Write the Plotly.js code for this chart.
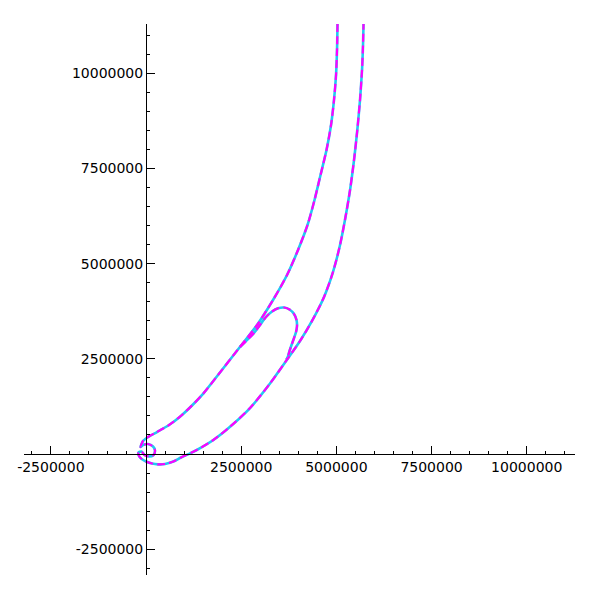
<!DOCTYPE html>
<html>
<head>
<meta charset="utf-8">
<script src="https://cdn.plot.ly/plotly-3.0.1.min.js"></script>
<style>html,body{margin:0;padding:0;background:#fff;}#chart{width:600px;height:600px;}</style>
</head>
<body>
<div id="chart"></div>
<script>
// Main path: upper branch (top -> origin), small loop, bottom, right branch (up to top)
const mainX = [5030000, 5017000, 4991000, 4938000, 4860000, 4741000, 4584000, 4426000, 4242000, 3993000,
  3704000, 3336000, 2916000, 2404000, 1891000, 1510000, 1221000, 893000, 604000, 289000,
  53000, -79000, -144000,
  -79000, 53000, 184000, 236000, 197000, 79000, -39000, -118000,
  -197000, -184000, -113000, 0, 158000, 315000, 499000, 717000, 919000, 1156000,
  1332000, 1768000, 2207000, 2732000, 3257000, 3651000, 4045000, 4360000, 4676000, 4912000,
  5096000, 5240000, 5359000, 5464000, 5550000, 5621000, 5674000, 5700000, 5713000];
const mainY = [11295000, 10612000, 9956000, 9299000, 8642000, 7985000, 7329000, 6672000, 6015000, 5359000,
  4702000, 4045000, 3389000, 2732000, 2075000, 1594000, 1287000, 980000, 762000, 578000,
  447000, 341000, 184000,
  236000, 263000, 197000, 92000, -26000, -66000, -26000, 66000,
  39000, -53000, -131000, -197000, -250000, -271000, -263000, -197000, -92000, 18000,
  105000, 368000, 717000, 1208000, 1852000, 2404000, 2968000, 3494000, 4124000, 4781000,
  5490000, 6226000, 6935000, 7723000, 8511000, 9299000, 10087000, 10744000, 11295000];
// Hook that leaves the upper branch and joins the right branch
const hookX = [2469000, 2837000, 2995000, 3152000, 3310000, 3467000, 3625000, 3769000, 3888000, 3953000,
  3966000, 3940000, 3888000, 3822000, 3769000, 3730000, 3690000];
const hookY = [2811000, 3178000, 3389000, 3599000, 3743000, 3827000, 3848000, 3796000, 3678000, 3520000,
  3362000, 3205000, 3047000, 2863000, 2706000, 2570000, 2480000];

const tickVals = [-2500000, 0, 2500000, 5000000, 7500000, 10000000];
const xTickText = ['-2500000', '', '2500000', '5000000', '7500000', '10000000'];
const yTickText = ['-2500000', '', '2500000', '5000000', '7500000', '10000000'];

const allX = mainX.concat([null], hookX);
const allY = mainY.concat([null], hookY);

const traces = [
  {x: allX, y: allY, type: 'scatter', mode: 'lines', connectgaps: false,
   line: {color: '#22c8f2', width: 2.6, shape: 'spline', smoothing: 0.7}, hoverinfo: 'skip'},
  {x: allX, y: allY, type: 'scatter', mode: 'lines', connectgaps: false,
   line: {color: '#ff00ff', width: 2.2, dash: '8px,4px', shape: 'spline', smoothing: 0.7}, hoverinfo: 'skip'}
];

const axisCommon = {
  showgrid: false, zeroline: false, showline: true, linecolor: '#000', linewidth: 1,
  ticks: 'inside', ticklen: 8, tickwidth: 1, tickcolor: '#000',
  tickmode: 'array', tickvals: tickVals,
  tickfont: {family: 'DejaVu Sans', size: 14, color: '#000'},
  minor: {tickmode: 'linear', tick0: 0, dtick: 500000, ticks: 'inside', ticklen: 3.5, tickwidth: 1, tickcolor: '#000', showgrid: false},
  anchor: 'free', fixedrange: true
};

const layout = {
  width: 600, height: 600,
  margin: {l: 24, r: 25, t: 24, b: 25},
  paper_bgcolor: '#fff', plot_bgcolor: '#fff',
  showlegend: false,
  xaxis: Object.assign({}, axisCommon, {range: [-3205000, 11268000], ticktext: xTickText, position: 0.2196, side: 'bottom'}),
  yaxis: Object.assign({}, axisCommon, {range: [-3178000, 11295000], ticktext: yTickText, position: 0.2214, side: 'left'})
};

Plotly.newPlot('chart', traces, layout, {staticPlot: true, displayModeBar: false});
</script>
</body>
</html>
